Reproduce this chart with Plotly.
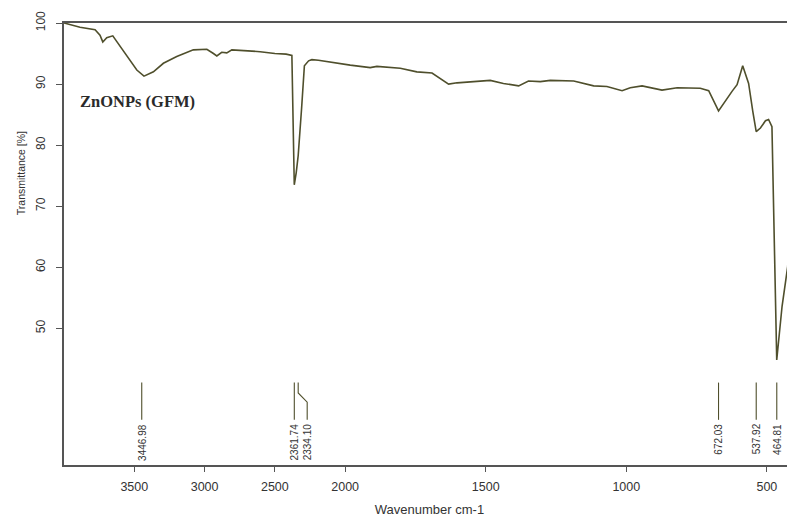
import numpy as np
import plotly.graph_objects as go

# ---------------- data ----------------
wavenumber = [4000, 3886, 3779, 3744, 3724, 3696, 3653, 3616, 3554, 3482, 3431, 3364, 3293,
              3198, 3080, 2984, 2937, 2913, 2878, 2842, 2806, 2724, 2605, 2500, 2420, 2379,
              2362, 2348, 2334, 2310, 2290, 2260, 2237, 2190, 2083, 1982, 1911, 1887, 1804,
              1745, 1691, 1662, 1632, 1602, 1543, 1484, 1437, 1383, 1348, 1306, 1270, 1187,
              1116, 1069, 1015, 986, 944, 873, 819, 737, 707, 672, 624, 606, 586, 565, 550,
              538, 523, 505, 494, 482, 465, 446, 426, 407, 400]
transmittance = [100.0, 99.3, 98.9, 98.0, 96.9, 97.6, 97.9, 96.7, 94.8, 92.3, 91.3, 92.0, 93.4,
                 94.5, 95.6, 95.7, 95.0, 94.6, 95.2, 95.1, 95.6, 95.5, 95.3, 95.0, 94.9, 94.7,
                 73.5, 75.5, 78.3, 86.0, 93.0, 93.8, 94.0, 93.9, 93.5, 93.1, 92.7, 92.9, 92.6,
                 92.0, 91.8, 90.9, 90.0, 90.2, 90.4, 90.6, 90.1, 89.7, 90.5, 90.4, 90.6, 90.5,
                 89.7, 89.6, 88.9, 89.4, 89.7, 89.0, 89.4, 89.3, 88.9, 85.6, 88.8, 89.9, 93.0,
                 90.1, 85.5, 82.2, 82.8, 84.0, 84.2, 83.0, 44.8, 53.6, 60.1, 76.5, 79.8]

peak_positions = [3446.98, 2361.74, 2334.10, 672.03, 537.92, 464.81]
peak_labels = ["3446.98", "2361.74", "2334.10", "672.03", "537.92", "464.81"]

x_ticks = [3500, 3000, 2500, 2000, 1500, 1000, 500]
y_ticks = [100, 90, 80, 70, 60, 50]


# ---------------- axis scale (2x expansion below 2000 cm-1) ----------------
def scale(w):
    w = np.asarray(w, dtype=float)
    return np.where(w > 2000, 2000 + (w - 2000) / 2.0, w)


LINE = "#4f4f2c"
TXT = "#333333"
PLOT_W = 731.0

fig = go.Figure()
fig.add_trace(go.Scatter(x=scale(wavenumber), y=transmittance, mode="lines",
                         line=dict(color=LINE, width=1.6), hoverinfo="skip",
                         showlegend=False))

# peak leader lines and labels
lead_top, lead_bot = 41.1, 35.0
for pos, lab in zip(peak_positions, peak_labels):
    u = float(scale(pos))
    shift_px = 9 if lab == "2334.10" else 0
    du = shift_px / 0.281
    if shift_px:
        xs = [u, u, u - du, u - du]
        ys = [lead_top, 39.4, 37.9, lead_bot]
    else:
        xs = [u, u]
        ys = [lead_top, lead_bot]
    fig.add_trace(go.Scatter(x=xs, y=ys, mode="lines", line=dict(color=LINE, width=1.1),
                             hoverinfo="skip", showlegend=False))
    fig.add_annotation(x=u - du, y=34.7, text=lab, showarrow=False, textangle=-90,
                       xanchor="center", yanchor="top",
                       font=dict(family="Liberation Sans", size=10, color=TXT))

fig.add_annotation(x=14 / PLOT_W, y=87.2, xref="paper", yref="y", text="<b>ZnONPs (GFM)</b>",
                   showarrow=False, xanchor="left", yanchor="middle",
                   font=dict(family="Liberation Serif", size=16.5, color="#2a2a2a"))

# y-axis title (placed off-centre, as in the original)
fig.add_annotation(x=(21 - 64) / PLOT_W, y=75.4, xref="paper", yref="y",
                   text="Transmittance [%]", showarrow=False, textangle=-90,
                   xanchor="center", yanchor="middle",
                   font=dict(family="Liberation Sans", size=10.5, color=TXT))

# page body has an 8px margin: the figure is shrunk/shifted so the plot area lands
# at x 64..795, y 23..465 of the window
fig.update_layout(
    width=787, height=509,
    margin=dict(l=56, r=0, t=15, b=52, autoexpand=False),
    plot_bgcolor="white", paper_bgcolor="white",
    font=dict(family="Liberation Sans", size=12, color=TXT),
    xaxis=dict(range=[3000, 400], tickvals=list(scale(x_ticks)), automargin=False,
               ticktext=[str(t) for t in x_ticks], showgrid=False, zeroline=False,
               showline=True, linecolor="#555555", linewidth=1.5, mirror=True,
               ticks="outside", ticklen=5, tickcolor="#555555", ticklabelstandoff=4,
               tickfont=dict(size=12.5),
               title=dict(text="Wavenumber cm-1", standoff=18, font=dict(size=13))),
    yaxis=dict(range=[27.6, 100], tickvals=y_ticks, showgrid=False, zeroline=False,
               automargin=False,
               showline=True, linecolor="#555555", linewidth=1.5, tickangle=-90,
               ticks="outside", ticklen=6, tickcolor="#555555", ticklabelstandoff=6,
               tickfont=dict(size=12)),
)

fig.write_html("out.html")
